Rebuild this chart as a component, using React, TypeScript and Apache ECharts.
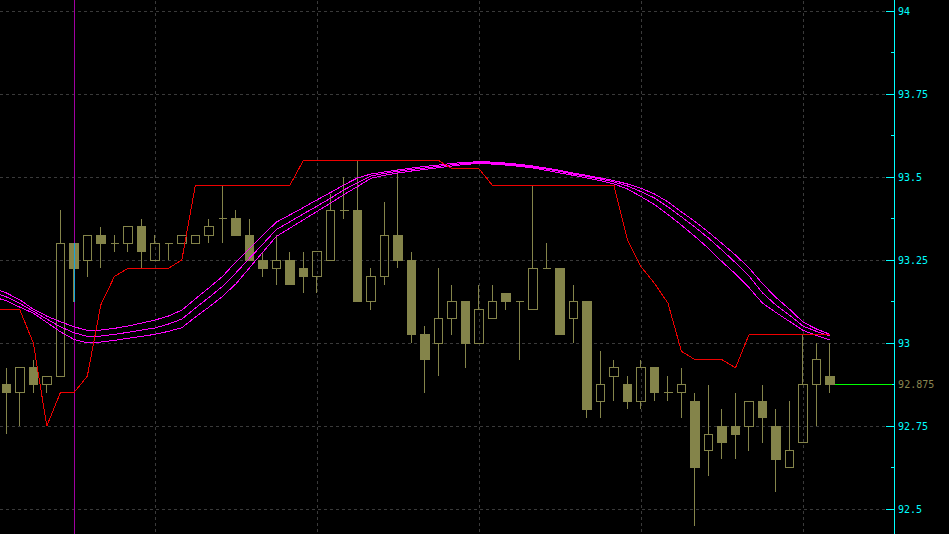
import React, { useEffect, useRef } from 'react';
import * as echarts from 'echarts';

// ---- Data ----
// Candles, bar index 0..61
const candleOpen = [
  92.875, 92.85, 92.925, 92.875, 92.9, 93.3, 93.25, 93.325, 93.3, 93.3,
  93.35, 93.25, 93.3, 93.3, 93.3, 93.325, 93.375, 93.375, 93.325, 93.25,
  93.225, 93.25, 93.225, 93.2, 93.25, 93.4, 93.4, 93.125, 93.2, 93.325,
  93.25, 93.025, 93.0, 93.075, 93.125, 93.0, 93.075, 93.15, 93.125, 93.1,
  93.225, 93.225, 93.075, 93.125, 92.825, 92.9, 92.875, 92.825, 92.925, 92.85,
  92.85, 92.825, 92.675, 92.75, 92.75, 92.75, 92.825, 92.75, 92.625, 92.7,
  92.875, 92.9,
];
const candleClose = [
  92.85, 92.925, 92.875, 92.9, 93.3, 93.225, 93.325, 93.3, 93.3, 93.35,
  93.275, 93.3, 93.3, 93.325, 93.325, 93.35, 93.375, 93.325, 93.25, 93.225,
  93.25, 93.175, 93.2, 93.275, 93.4, 93.4, 93.125, 93.2, 93.325, 93.25,
  93.025, 92.95, 93.075, 93.125, 93.0, 93.1, 93.125, 93.125, 93.125, 93.225,
  93.225, 93.025, 93.125, 92.8, 92.875, 92.925, 92.825, 92.925, 92.85, 92.85,
  92.875, 92.625, 92.725, 92.7, 92.725, 92.825, 92.775, 92.65, 92.675, 92.875,
  92.95, 92.875,
];
const candleLow = [
  92.725, 92.75, 92.85, 92.85, 92.9, 93.125, 93.2, 93.225, 93.275, 93.275,
  93.225, 93.25, 93.25, 93.3, 93.3, 93.3, 93.3, 93.325, 93.25, 93.2,
  93.175, 93.175, 93.15, 93.15, 93.25, 93.375, 93.125, 93.1, 93.175, 93.225,
  93.0, 92.85, 92.9, 93.025, 92.925, 93.0, 93.075, 93.1, 92.95, 93.1,
  93.225, 93.025, 93.0, 92.775, 92.775, 92.825, 92.8, 92.8, 92.825, 92.825,
  92.775, 92.45, 92.6, 92.65, 92.65, 92.675, 92.7, 92.55, 92.625, 92.7,
  92.75, 92.85,
];
const candleHigh = [
  92.925, 92.925, 92.95, 92.9, 93.4, 93.3, 93.325, 93.35, 93.325, 93.35,
  93.375, 93.325, 93.3, 93.325, 93.325, 93.375, 93.475, 93.4, 93.375, 93.275,
  93.325, 93.275, 93.275, 93.275, 93.45, 93.5, 93.55, 93.225, 93.425, 93.525,
  93.275, 93.05, 93.225, 93.175, 93.125, 93.175, 93.175, 93.15, 93.125, 93.475,
  93.3, 93.225, 93.175, 93.125, 92.975, 92.95, 92.9, 92.95, 92.925, 92.9,
  92.925, 92.85, 92.875, 92.8, 92.85, 92.825, 92.875, 92.8, 92.825, 93.025,
  93.0, 93.0,
];

// Indicator lines, bar index -1..61 (first point sits just off the left edge)
const LINE_START = -1;
const bandUpper = [
  93.165, 93.151, 93.130, 93.102, 93.081, 93.064, 93.049, 93.038, 93.039, 93.044,
  93.051, 93.060, 93.069, 93.081, 93.099, 93.133, 93.166, 93.200, 93.244, 93.285,
  93.325, 93.364, 93.386, 93.408, 93.431, 93.453, 93.476, 93.497, 93.509, 93.515,
  93.521, 93.527, 93.532, 93.536, 93.541, 93.544, 93.546, 93.545, 93.542, 93.538,
  93.533, 93.527, 93.520, 93.512, 93.505, 93.497, 93.489, 93.479, 93.466, 93.449,
  93.425, 93.395, 93.366, 93.334, 93.300, 93.265, 93.226, 93.179, 93.137, 93.102,
  93.063, 93.042, 93.026,
];
const bandMiddle = [
  93.153, 93.139, 93.119, 93.096, 93.072, 93.049, 93.031, 93.020, 93.021, 93.026,
  93.032, 93.039, 93.045, 93.057, 93.072, 93.105, 93.137, 93.170, 93.211, 93.255,
  93.298, 93.342, 93.365, 93.389, 93.412, 93.436, 93.461, 93.483, 93.503, 93.511,
  93.517, 93.523, 93.527, 93.532, 93.537, 93.541, 93.543, 93.542, 93.539, 93.535,
  93.530, 93.524, 93.517, 93.509, 93.502, 93.494, 93.485, 93.473, 93.456, 93.437,
  93.410, 93.380, 93.349, 93.316, 93.280, 93.242, 93.202, 93.151, 93.114, 93.084,
  93.051, 93.035, 93.021,
];
const bandLower = [
  93.140, 93.127, 93.108, 93.090, 93.062, 93.034, 93.011, 93.000, 93.003, 93.008,
  93.014, 93.020, 93.026, 93.035, 93.046, 93.078, 93.108, 93.140, 93.178, 93.226,
  93.274, 93.321, 93.346, 93.371, 93.396, 93.421, 93.447, 93.471, 93.496, 93.505,
  93.512, 93.518, 93.523, 93.528, 93.533, 93.538, 93.541, 93.539, 93.536, 93.532,
  93.527, 93.520, 93.512, 93.505, 93.497, 93.489, 93.479, 93.464, 93.441, 93.417,
  93.387, 93.355, 93.321, 93.285, 93.245, 93.208, 93.167, 93.120, 93.092, 93.065,
  93.038, 93.023, 93.009,
];
const stopLine = [
  93.1, 93.1, 93.1, 93.0, 92.75, 92.85, 92.85, 92.9, 93.115, 93.2,
  93.225, 93.225, 93.225, 93.225, 93.25, 93.475, 93.475, 93.475, 93.475, 93.475,
  93.475, 93.475, 93.475, 93.55, 93.55, 93.55, 93.55, 93.55, 93.55, 93.55,
  93.55, 93.55, 93.55, 93.55, 93.525, 93.525, 93.525, 93.475, 93.475, 93.475,
  93.475, 93.475, 93.475, 93.475, 93.475, 93.475, 93.475, 93.31, 93.23, 93.18,
  93.12, 92.975, 92.95, 92.95, 92.95, 92.925, 93.025, 93.025, 93.025, 93.025,
  93.025, 93.025, 93.025,
];

// Vertical grid columns (bar indices) and the marker column
const gridColumns = [11, 23, 35, 47, 59];
const markerColumn = 5;
const markerWick = [93.3, 93.125];
// Last price line
const lastPrice = 92.875;
const lastPriceSpan = [61.4, 65.6];

// Axis settings
const Y_MIN = 92.25;
const Y_MAX = 94.25;
const Y_STEP = 0.25;
const X_MIN = -0.4666;
const X_MAX = 65.74;

const OLIVE = '#84844a';
const CYAN = '#00ffff';
const GRID = '#3a3a3a';
const FONT = 'DejaVu Sans Mono';

export default function App() {
  const ref = useRef<HTMLDivElement>(null);

  useEffect(() => {
    document.body.style.margin = '0';
    document.body.style.background = '#000';
    document.body.style.overflow = 'hidden';
    const chart = echarts.init(ref.current as HTMLDivElement, null, { renderer: 'svg' });

    const toLine = (arr: number[]) => arr.map((v, i) => [i + LINE_START, v]);

    const option: any = {
      animation: false,
      backgroundColor: '#000',
      grid: { left: 0, right: 55, top: 0, bottom: 0, containLabel: false, outerBoundsMode: 'none' },
      xAxis: {
        type: 'value',
        min: X_MIN,
        max: X_MAX,
        show: false,
        splitLine: { show: false },
      },
      yAxis: {
        type: 'value',
        position: 'right',
        min: Y_MIN,
        max: Y_MAX,
        interval: Y_STEP,
        axisLine: { show: true, onZero: false, lineStyle: { color: CYAN, width: 1 } },
        axisTick: { show: true, inside: true, length: 8, lineStyle: { color: CYAN, width: 1 } },
        minorTick: { show: true, splitNumber: 2, length: 3, lineStyle: { color: CYAN, width: 1 } },
        axisLabel: {
          show: true,
          showMinLabel: false,
          showMaxLabel: false,
          color: CYAN,
          fontFamily: FONT,
          fontSize: 10,
          margin: 4,
        },
        splitLine: { show: true, lineStyle: { color: GRID, type: [3, 3], width: 1 } },
        minorSplitLine: { show: false },
      },
      series: [
        {
          type: 'candlestick',
          silent: true,
          z: 2,
          barWidth: 9,
          encode: { x: 0, y: [1, 2, 3, 4] },
          data: candleOpen.map((o, i) => [i, o, candleClose[i], candleLow[i], candleHigh[i]]),
          itemStyle: {
            color: 'rgba(0,0,0,0)',
            color0: OLIVE,
            borderColor: OLIVE,
            borderColor0: OLIVE,
            borderColorDoji: OLIVE,
            borderWidth: 1,
          },
          markLine: {
            z: 1,
            silent: true,
            symbol: ['none', 'none'],
            label: { show: false },
            lineStyle: { color: GRID, type: [3, 3], width: 1 },
            data: gridColumns.map((c) => ({ xAxis: c })),
          },
        },
        {
          type: 'line',
          silent: true,
          z: 3,
          symbol: 'none',
          data: toLine(bandUpper),
          lineStyle: { color: '#ff00ff', width: 1 },
        },
        {
          type: 'line',
          silent: true,
          z: 3,
          symbol: 'none',
          data: toLine(bandMiddle),
          lineStyle: { color: '#ff00ff', width: 1 },
        },
        {
          type: 'line',
          silent: true,
          z: 3,
          symbol: 'none',
          data: toLine(bandLower),
          lineStyle: { color: '#ff00ff', width: 1 },
        },
        {
          type: 'line',
          silent: true,
          z: 3,
          symbol: 'none',
          data: toLine(stopLine),
          lineStyle: { color: '#ee0000', width: 1 },
          markLine: {
            z: 1,
            silent: true,
            symbol: ['none', 'none'],
            label: { show: false },
            lineStyle: { color: '#a000a0', type: 'solid', width: 1 },
            data: [{ xAxis: markerColumn }],
          },
        },
        {
          type: 'line',
          silent: true,
          z: 10,
          symbol: 'none',
          data: [],
          markLine: {
            z: 10,
            silent: true,
            symbol: ['none', 'none'],
            label: { show: false },
            lineStyle: { color: '#18a4dc', type: 'solid', width: 1 },
            data: [[
              { coord: [markerColumn, markerWick[0]] },
              { coord: [markerColumn, markerWick[1]] },
            ]],
          },
        },
        {
          type: 'line',
          silent: true,
          z: 6,
          symbol: 'none',
          data: lastPriceSpan.map((x) => [x, lastPrice]),
          lineStyle: { color: '#00ff00', width: 1 },
          endLabel: {
            show: true,
            distance: 6,
            color: '#8a8650',
            fontFamily: FONT,
            fontSize: 10,
            formatter: (p: any) => String(p.value[1]),
          },
        },
      ],
    };

    chart.setOption(option);
    const svg = (ref.current as HTMLDivElement).querySelector('svg');
    if (svg) svg.setAttribute('shape-rendering', 'crispEdges');
    return () => chart.dispose();
  }, []);

  return (
    <div
      ref={ref}
      style={{ position: 'fixed', left: 0, top: -72, width: 949, height: 664, background: '#000' }}
    />
  );
}
